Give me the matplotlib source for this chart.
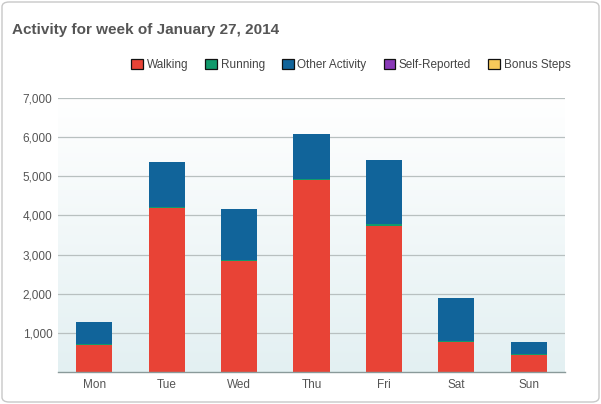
import numpy as np
import matplotlib.pyplot as plt
from matplotlib.patches import Patch, FancyBboxPatch

days = ["Mon", "Tue", "Wed", "Thu", "Fri", "Sat", "Sun"]
walking = [690, 4190, 2840, 4910, 3730, 760, 430]
running = [25, 35, 30, 30, 60, 25, 20]
other = [565, 1145, 1300, 1150, 1630, 1105, 320]
self_reported = [0, 0, 0, 0, 0, 0, 0]
bonus_steps = [0, 0, 0, 0, 0, 0, 0]

series_names = ["Walking", "Running", "Other Activity", "Self-Reported", "Bonus Steps"]
colors = ["#e84336", "#119a6c", "#11649a", "#8a3ab8", "#f7c95a"]

plt.rcParams['font.family'] = ['Liberation Sans', 'DejaVu Sans']

fig = plt.figure(figsize=(6.01, 4.04), dpi=100)
ax = fig.add_axes([58 / 601, 32 / 404, 507 / 601, 274 / 404])

# outer rounded frame
frame = FancyBboxPatch((2 / 601, 2 / 404), 597 / 601, 400 / 404,
                       boxstyle="round,pad=0,rounding_size=0.012",
                       transform=fig.transFigure, facecolor="none",
                       edgecolor="#c8c8c8", linewidth=1.0)
fig.patches.append(frame)

# background gradient
grad = np.linspace(0, 1, 256).reshape(-1, 1)
top_c = np.array([1.0, 1.0, 1.0])
bot_c = np.array([0xe3, 0xf0, 0xf2]) / 255
img = top_c * (1 - grad[..., None]) + bot_c * grad[..., None]
img = img.reshape(256, 1, 3)
ax.imshow(img, extent=(-0.5, 6.5, 0, 7000), aspect="auto", origin="upper", zorder=0)

x = np.arange(len(days))
bottom = np.zeros(len(days))
for name, vals, col in zip(series_names,
                           [walking, running, other, self_reported, bonus_steps],
                           colors):
    ax.bar(x, vals, width=0.5, bottom=bottom, color=col, linewidth=0, zorder=3)
    bottom += np.array(vals)

ax.set_xlim(-0.5, 6.5)
ax.set_ylim(0, 7000)
ax.set_yticks(range(1000, 7001, 1000))
ax.set_yticklabels(["{:,}".format(v) for v in range(1000, 7001, 1000)])
ax.set_xticks(x)
ax.set_xticklabels(days)
ax.tick_params(axis="both", length=0, labelsize=8.5, colors="#555555")
ax.tick_params(axis="y", pad=4)
ax.tick_params(axis="x", pad=5)
ax.grid(axis="y", color="#b8c0c0", linewidth=0.9, zorder=1)
for s in ["top", "right", "left"]:
    ax.spines[s].set_visible(False)
ax.spines["bottom"].set_color("#8a9a9a")
ax.spines["bottom"].set_linewidth(1.0)
ax.spines["bottom"].set_zorder(4)

fig.text(12 / 601, 1 - 30 / 404, "Activity for week of January 27, 2014",
         fontsize=11, fontweight="bold", color="#555555", va="center", ha="left")

handles = [Patch(facecolor=c, edgecolor="#111111", linewidth=0.9) for c in colors]
fig.legend(handles, series_names, loc="center right",
           bbox_to_anchor=(581 / 601, 1 - 65 / 404), ncol=5, frameon=False,
           fontsize=8.5, handlelength=1.0, handleheight=1.0, handletextpad=0.3,
           columnspacing=1.45, labelcolor="#444444")

fig.savefig("out.png", dpi=100)
